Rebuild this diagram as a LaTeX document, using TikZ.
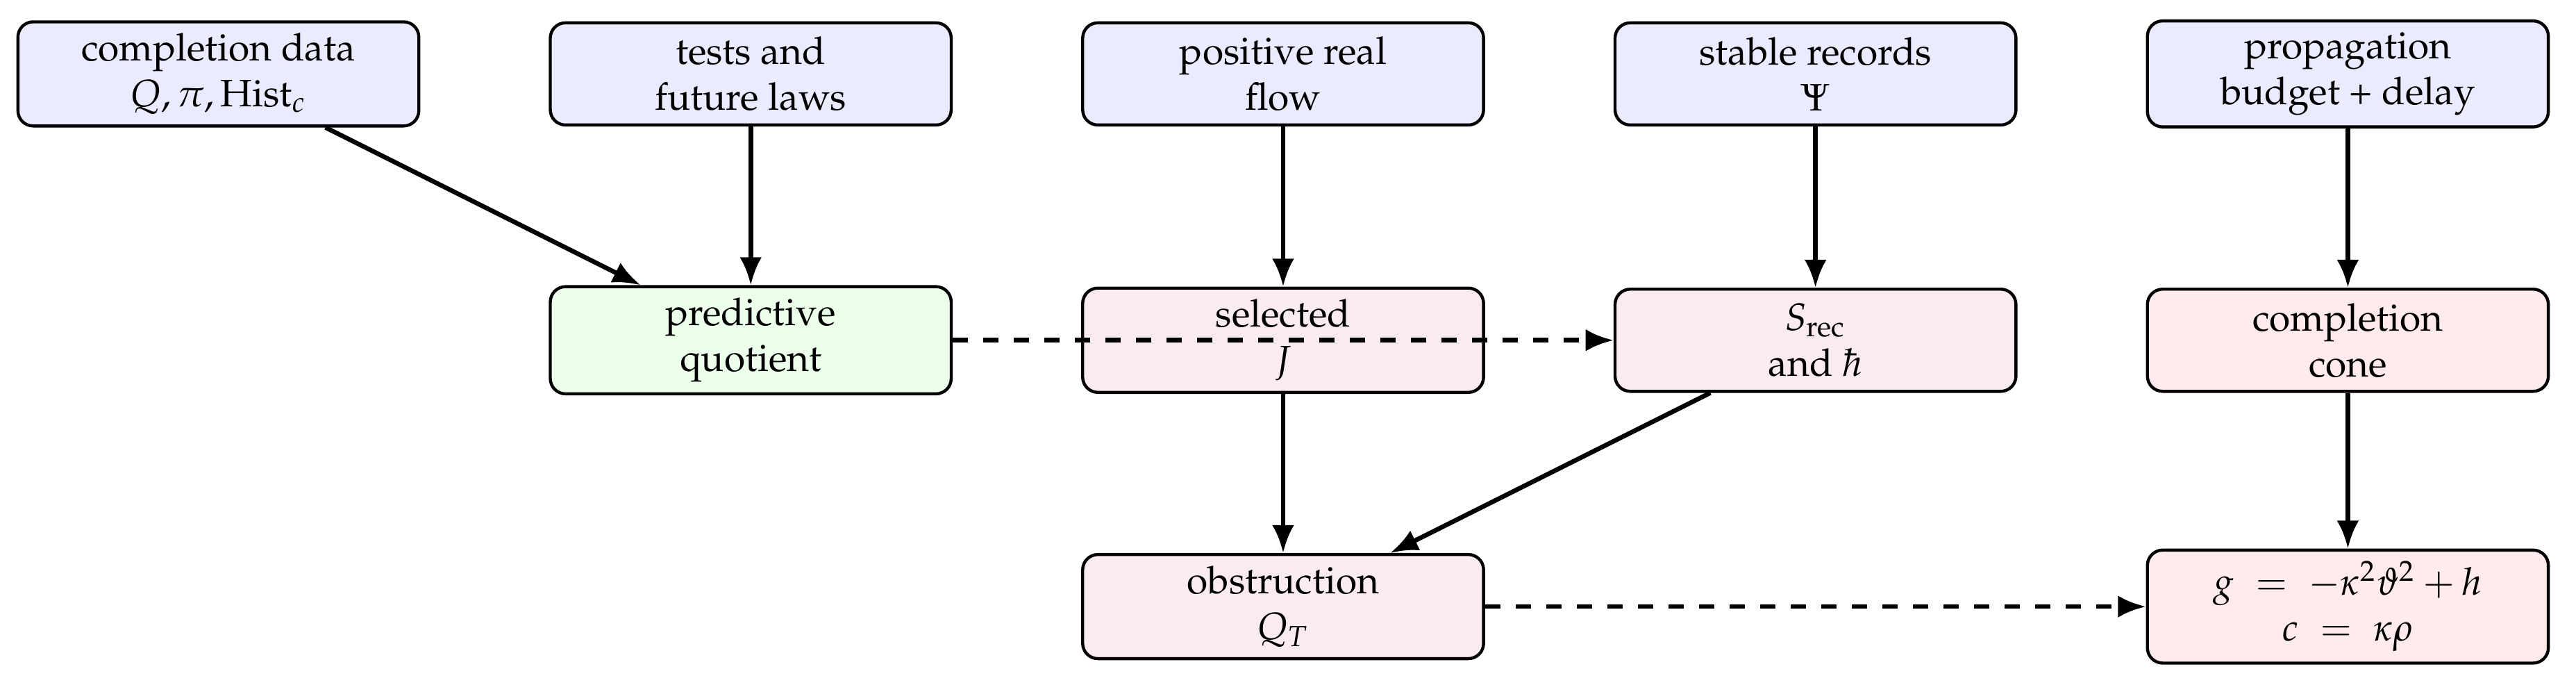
\documentclass[tikz,border=0pt]{standalone}
\usepackage[T1]{fontenc}
\usepackage{mathpazo}
\usetikzlibrary{arrows.meta}

\begin{document}
\begin{tikzpicture}
\tikzset{boite/.style={draw, thick, rounded corners=4pt, align=center, minimum width=3.69cm, minimum height=0.94cm, inner sep=3pt},
entree/.style={boite, fill=blue!8},
quotient/.style={boite, fill=green!8},
selection/.style={boite, fill=purple!8},
sortie/.style={boite, fill=red!8},
fleche/.style={line width=1.2pt, -{Latex[length=7.3pt, width=5.8pt]}},
pointille/.style={fleche, dash pattern=on 4pt off 4pt}}
\useasboundingbox (-2.01, 0.68) rectangle (21.70, -5.62);
\node[entree] (D) at (0, 0) {completion data\\$Q, \pi, \mathrm{Hist}_c$};
\node[entree] (T) at (4.9, 0) {tests and\\future laws};
\node[entree] (F) at (9.8, 0) {positive real\\flow};
\node[entree] (R) at (14.7, 0) {stable records\\$\Psi$};
\node[entree] (P) at (19.6, 0) {propagation\\budget + delay};
\node[quotient] (Q) at (4.9, -2.45) {predictive\\quotient};
\node[selection] (J) at (9.8, -2.45) {selected\\$J$};
\node[selection] (S) at (14.7, -2.45) {$S_{\mathrm{rec}}$\\and $\hbar$};
\node[sortie] (C) at (19.6, -2.45) {completion\\cone};
\node[selection] (O) at (9.8, -4.9) {obstruction\\$Q_T$};
\node[sortie] (G) at (19.6, -4.9) {$g \;=\; -\kappa^2\vartheta^2 + h$\\$c \;=\; \kappa\rho$};
\draw[fleche] (D) -- (Q);
\draw[fleche] (T) -- (Q);
\draw[fleche] (F) -- (J);
\draw[fleche] (R) -- (S);
\draw[fleche] (P) -- (C);
\draw[fleche] (J) -- (O);
\draw[fleche] (S) -- (O);
\draw[fleche] (C) -- (G);
\draw[pointille] (Q) -- (S);
\draw[pointille] (O) -- (G);
\end{tikzpicture}
\end{document}
